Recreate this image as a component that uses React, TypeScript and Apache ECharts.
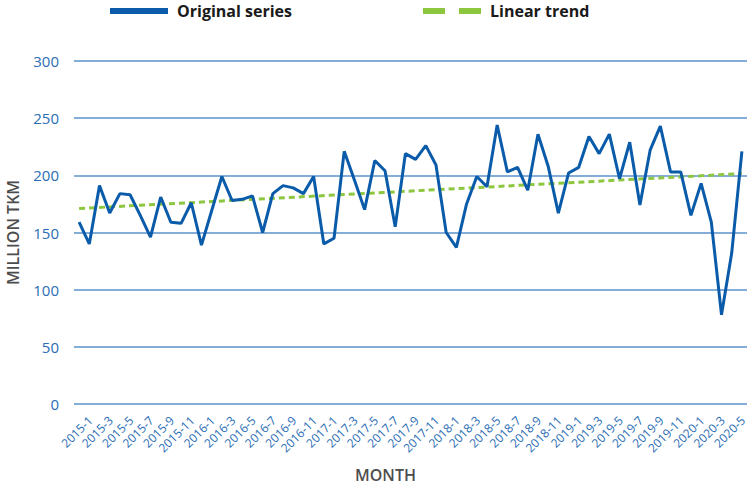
import React, { useEffect, useRef } from "react";
import * as echarts from "echarts";

const categories: string[] = [
  "2015-1", "2015-2", "2015-3", "2015-4", "2015-5", "2015-6", "2015-7", "2015-8", "2015-9", "2015-10", "2015-11", "2015-12",
  "2016-1", "2016-2", "2016-3", "2016-4", "2016-5", "2016-6", "2016-7", "2016-8", "2016-9", "2016-10", "2016-11", "2016-12",
  "2017-1", "2017-2", "2017-3", "2017-4", "2017-5", "2017-6", "2017-7", "2017-8", "2017-9", "2017-10", "2017-11", "2017-12",
  "2018-1", "2018-2", "2018-3", "2018-4", "2018-5", "2018-6", "2018-7", "2018-8", "2018-9", "2018-10", "2018-11", "2018-12",
  "2019-1", "2019-2", "2019-3", "2019-4", "2019-5", "2019-6", "2019-7", "2019-8", "2019-9", "2019-10", "2019-11", "2019-12",
  "2020-1", "2020-2", "2020-3", "2020-4", "2020-5", "2020-6",
];

const originalSeries: number[] = [
  159, 140, 191, 167, 184, 183, 165, 146, 181, 159, 158, 176,
  139, 169, 199, 178, 179, 182, 150, 184, 191, 189, 184, 199,
  140, 145, 221, 196, 170, 213, 204, 155, 219, 214, 226, 209,
  150, 137, 175, 199, 190, 244, 203, 207, 187, 236, 208, 167,
  202, 207, 234, 219, 236, 197, 229, 174, 222, 243, 203, 203,
  165, 193, 159, 78, 132, 221,
];

// Linear trend: value at the first and last month, joined by a straight line
const trendStart = 171;
const trendEnd = 201.5;

const yTicks = { min: 0, max: 300, interval: 50 };

const BLUE = "#0a5ba9";
const GREEN = "#8dc63f";
const GRID = "#5b92cc";
const LABEL = "#2a6db5";
const TITLE = "#4d4d4d";

export default function App() {
  const ref = useRef<HTMLDivElement>(null);

  useEffect(() => {
    if (!ref.current) return;
    const chart = echarts.init(ref.current, undefined, { renderer: "svg" });
    const last = categories.length - 1;
    const trendData = categories.map((_, i) =>
      i === 0 ? trendStart : i === last ? trendEnd : null
    );
    const legendText = {
      fontFamily: "Open Sans",
      fontWeight: "bold",
      fontSize: 16,
      color: "#1a1a1a",
      padding: [0, 0, 0, 4],
    };
    chart.setOption({
      animation: false,
      textStyle: { fontFamily: "Open Sans" },
      legend: [
        {
          data: [{ name: "Original series", icon: "rect" }],
          left: 110,
          top: 3,
          padding: 0,
          itemWidth: 58,
          itemHeight: 6,
          itemStyle: { borderWidth: 0 },
          textStyle: legendText,
          selectedMode: false,
        },
        {
          data: [{ name: "Linear trend", icon: "path://M0,0h22v6h-22z M36,0h22v6h-22z" }],
          left: 423,
          top: 3,
          padding: 0,
          itemWidth: 58,
          itemHeight: 6,
          itemStyle: { borderWidth: 0 },
          textStyle: legendText,
          selectedMode: false,
        },
      ],
      grid: [
        { left: 74, right: 3, top: 61, bottom: 81, outerBoundsMode: "none", containLabel: false },
        // label-only grid: same width, shifted right so the rotated month labels sit like the reference
        { left: 81, right: -4, top: 61, bottom: 81, outerBoundsMode: "none", containLabel: false },
      ],
      xAxis: [
        {
          type: "category",
          gridIndex: 0,
          data: categories,
          boundaryGap: true,
          axisLine: { show: false },
          axisTick: { show: false },
          axisLabel: { show: false },
          name: "MONTH",
          nameLocation: "middle",
          nameGap: 63,
          nameTextStyle: {
            fontFamily: "Open Sans",
            fontWeight: 600,
            fontSize: 16,
            lineHeight: 16,
            color: TITLE,
            padding: [0, 50, 0, 0],
          },
        },
        {
          type: "category",
          gridIndex: 1,
          data: categories,
          boundaryGap: true,
          axisLine: { show: false },
          axisTick: { show: false },
          splitLine: { show: false },
          axisLabel: {
            interval: 1,
            rotate: 45,
            color: LABEL,
            fontFamily: "Open Sans",
            fontSize: 12,
            margin: 10,
            verticalAlign: "top",
          },
        },
      ],
      yAxis: [
        {
          type: "value",
          gridIndex: 0,
          min: yTicks.min,
          max: yTicks.max,
          interval: yTicks.interval,
          axisLine: { show: false },
          axisTick: { show: false },
          axisLabel: {
            color: LABEL,
            fontFamily: "Open Sans",
            fontSize: 15,
            margin: 15,
          },
          splitLine: { lineStyle: { color: GRID, width: 1.5 } },
          name: "MILLION TKM",
          nameLocation: "middle",
          nameGap: 53,
          nameTextStyle: {
            fontFamily: "Open Sans",
            fontWeight: 600,
            fontSize: 16,
            color: TITLE,
          },
        },
        {
          type: "value",
          gridIndex: 1,
          min: yTicks.min,
          max: yTicks.max,
          interval: yTicks.interval,
          show: false,
        },
      ],
      series: [
        {
          name: "Original series",
          type: "line",
          data: originalSeries,
          symbol: "none",
          z: 3,
          lineStyle: { color: BLUE, width: 3 },
          itemStyle: { color: BLUE },
        },
        {
          name: "Linear trend",
          type: "line",
          data: trendData,
          connectNulls: true,
          symbol: "none",
          z: 2,
          lineStyle: { color: GREEN, width: 3, type: [6, 4] },
          itemStyle: { color: GREEN },
        },
      ],
    });
    return () => chart.dispose();
  }, []);

  return (
    <div
      ref={ref}
      style={{ position: "absolute", left: 0, top: 0, width: 750, height: 485 }}
    />
  );
}
